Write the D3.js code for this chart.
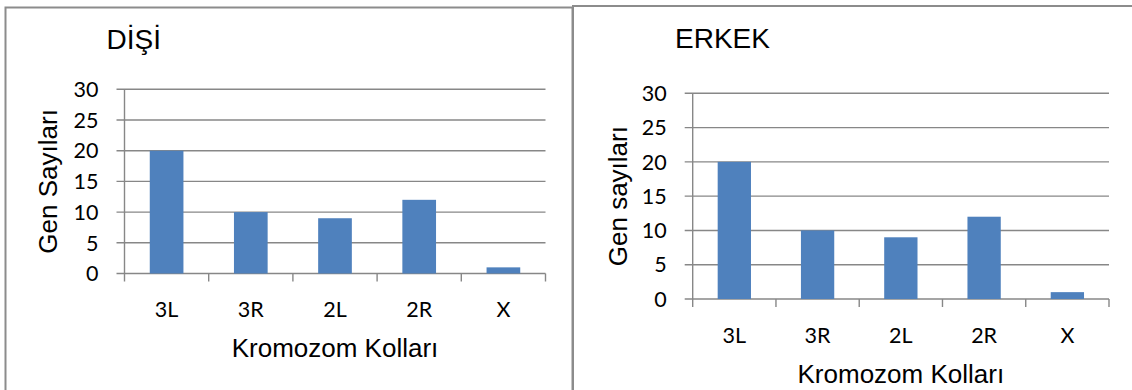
<!DOCTYPE html>
<html>
<head>
<meta charset="utf-8">
<script src="https://cdn.jsdelivr.net/npm/d3@7/dist/d3.min.js"></script>
<style>
  html, body { margin: 0; padding: 0; background: #fff; }
  svg { display: block; }
</style>
</head>
<body>
<svg id="chart" width="1132" height="390"></svg>
<script>
// Gene counts per chromosome arm, female and male flies
const categories = ["3L", "3R", "2L", "2R", "X"];
const femaleCounts = [20, 10, 9, 12, 1];
const maleCounts = [20, 10, 9, 12, 1];
const yTickValues = [0, 5, 10, 15, 20, 25, 30];
const panelTitles = ["DİŞİ", "ERKEK"];
const yAxisTitles = ["Gen Sayıları", "Gen sayıları"];
const xAxisTitle = "Kromozom Kolları";

const svg = d3.select("#chart");
const GRID = "#878787";
const BAR = "#4f81bd";
const TICK_FONT = "Lato, 'Open Sans', sans-serif";
const TITLE_FONT = "'Liberation Sans', Arial, sans-serif";

// Panel frames (each chart sits in its own bordered box)
svg.append("rect")
  .attr("x", 5.5).attr("y", 7.5).attr("width", 567).attr("height", 420)
  .attr("fill", "none").attr("stroke", "#8c8c8c").attr("stroke-width", 2);
svg.append("rect")
  .attr("x", 573).attr("y", 6).attr("width", 600).attr("height", 420)
  .attr("fill", "none").attr("stroke", "#8c8c8c").attr("stroke-width", 2);

function drawPanel(opts) {
  const { values, title, yTitle, plot, titlePos, yTitleX, xTitleY } = opts;
  const g = svg.append("g");

  const x = d3.scaleBand()
    .domain(categories)
    .range([plot.left, plot.right])
    .paddingInner(0.6)
    .paddingOuter(0.3);

  const y = d3.scaleLinear()
    .domain([0, 30])
    .range([plot.bottom, plot.top]);

  // Horizontal gridlines, extended left as tick marks
  g.selectAll("line.grid")
    .data(yTickValues)
    .join("line")
    .attr("class", "grid")
    .attr("x1", plot.left - 8).attr("x2", plot.right)
    .attr("y1", d => y(d)).attr("y2", d => y(d))
    .attr("stroke", GRID).attr("stroke-width", 1.4);

  // Vertical axis line
  g.append("line")
    .attr("x1", plot.left).attr("x2", plot.left)
    .attr("y1", y(30)).attr("y2", y(0))
    .attr("stroke", GRID).attr("stroke-width", 1.4);

  // Category boundary tick marks below the axis
  const step = x.step();
  const boundaries = d3.range(categories.length + 1).map(i => plot.left + i * step);
  g.selectAll("line.xtick")
    .data(boundaries)
    .join("line")
    .attr("class", "xtick")
    .attr("x1", d => d).attr("x2", d => d)
    .attr("y1", y(0)).attr("y2", y(0) + 8)
    .attr("stroke", GRID).attr("stroke-width", 1.4);

  // Bars
  g.selectAll("rect.bar")
    .data(values)
    .join("rect")
    .attr("class", "bar")
    .attr("x", (d, i) => x(categories[i]))
    .attr("width", x.bandwidth())
    .attr("y", d => y(d))
    .attr("height", d => y(0) - y(d))
    .attr("fill", BAR);

  // Y tick labels
  g.selectAll("text.ytick")
    .data(yTickValues)
    .join("text")
    .attr("class", "ytick")
    .attr("x", plot.left - 26)
    .attr("y", d => y(d))
    .attr("dy", "0.36em")
    .attr("text-anchor", "end")
    .attr("font-family", TICK_FONT)
    .attr("font-size", 21.5)
    .attr("fill", "#000")
    .text(d => d);

  // Category labels
  g.selectAll("text.xtick")
    .data(categories)
    .join("text")
    .attr("class", "xtick")
    .attr("x", d => x(d) + x.bandwidth() / 2)
    .attr("y", y(0) + 43.5)
    .attr("text-anchor", "middle")
    .attr("font-family", TICK_FONT)
    .attr("font-size", 21.5)
    .attr("fill", "#000")
    .text(d => d);

  // Chart title
  g.append("text")
    .attr("x", titlePos[0]).attr("y", titlePos[1])
    .attr("font-family", TITLE_FONT)
    .attr("font-size", 28)
    .attr("fill", "#000")
    .text(title);

  // Axis titles
  g.append("text")
    .attr("transform", `translate(${yTitleX},${(plot.top + plot.bottom) / 2}) rotate(-90)`)
    .attr("text-anchor", "middle")
    .attr("font-family", TITLE_FONT)
    .attr("font-size", 26)
    .attr("fill", "#000")
    .text(yTitle);

  g.append("text")
    .attr("x", (plot.left + plot.right) / 2)
    .attr("y", xTitleY)
    .attr("text-anchor", "middle")
    .attr("font-family", TITLE_FONT)
    .attr("font-size", 26)
    .attr("fill", "#000")
    .text(xAxisTitle);
}

drawPanel({
  values: femaleCounts,
  title: panelTitles[0],
  yTitle: yAxisTitles[0],
  plot: { left: 124.5, right: 545.5, top: 89.3, bottom: 273.5 },
  titlePos: [106.5, 49],
  yTitleX: 57,
  xTitleY: 357
});

drawPanel({
  values: maleCounts,
  title: panelTitles[1],
  yTitle: yAxisTitles[1],
  plot: { left: 692.7, right: 1109, top: 93.3, bottom: 299 },
  titlePos: [675, 48],
  yTitleX: 627,
  xTitleY: 382.5
});
</script>
</body>
</html>
